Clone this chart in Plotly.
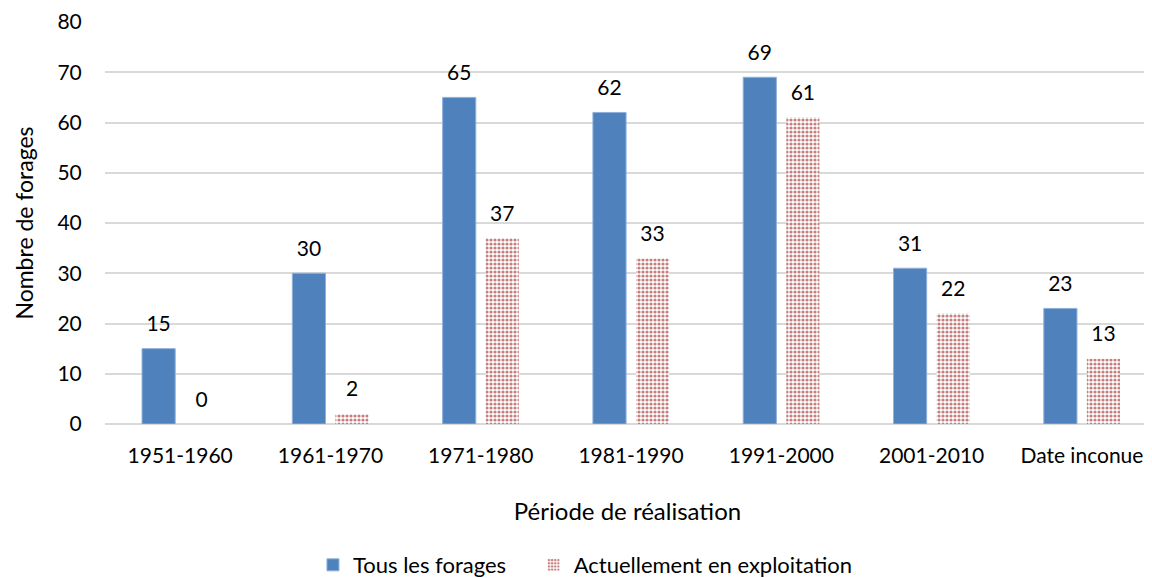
import plotly.graph_objects as go

categories = ["1951-1960", "1961-1970", "1971-1980", "1981-1990", "1991-2000", "2001-2010", "Date inconue"]
tous = [15, 30, 65, 62, 69, 31, 23]
actuel = [0, 2, 37, 33, 61, 22, 13]

font = "Lato, 'Open Sans', sans-serif"
fig = go.Figure()
fig.add_trace(go.Bar(
    x=categories, y=tous, name="Tous les forages\u00a0\u00a0\u00a0\u00a0",
    marker=dict(color="#4f81bd", line=dict(color="#8eb0dc", width=1)),
    offsetgroup="a",
))
fig.add_trace(go.Bar(
    x=categories, y=actuel, name="Actuellement en exploitation",
    marker=dict(color="white", line=dict(width=0),
                pattern=dict(shape=".", fgcolor="#8b0000", bgcolor="white",
                             size=4, solidity=0.5, fillmode="overlay")),
    offsetgroup="b",
))
for vals, g in ((tous, "a"), (actuel, "b")):
    fig.add_trace(go.Scatter(
        x=categories, y=vals, mode="markers+text", offsetgroup=g,
        text=[str(v) for v in vals], textposition="top center",
        textfont=dict(size=21, color="#000000"),
        marker=dict(size=18, opacity=0), showlegend=False, hoverinfo="skip",
        cliponaxis=False,
    ))
fig.update_layout(
    width=1152, height=578,
    margin=dict(l=97, r=10, t=14, b=162),
    paper_bgcolor="white", plot_bgcolor="white",
    font=dict(family=font, size=21, color="#000000"),
    barmode="group", bargap=0.427, bargroupgap=0.23,
    scattermode="group", scattergap=0.427,
    legend=dict(orientation="h", xref="paper", x=0.199, xanchor="left",
                yref="container", y=0.0363, yanchor="middle",
                font=dict(size=22), itemwidth=30),
    showlegend=True,
)
fig.update_xaxes(
    title=dict(text="Période de réalisation", font=dict(size=24), standoff=36),
    tickfont=dict(size=21), showgrid=False, showline=False,
    range=[-0.5, 6.453],
    ticks="outside", ticklen=13, tickcolor="white", automargin=False,
)
fig.update_yaxes(
    title=dict(text="Nombre de forages", font=dict(size=23), standoff=17),
    range=[0, 80], dtick=10, tickfont=dict(size=21),
    showgrid=True, gridcolor="#d9d9d9", gridwidth=1.5,
    zeroline=True, zerolinecolor="#d9d9d9", zerolinewidth=1.5,
    ticks="outside", ticklen=18, tickcolor="white", automargin=False,
)
fig.write_html("out.html")
